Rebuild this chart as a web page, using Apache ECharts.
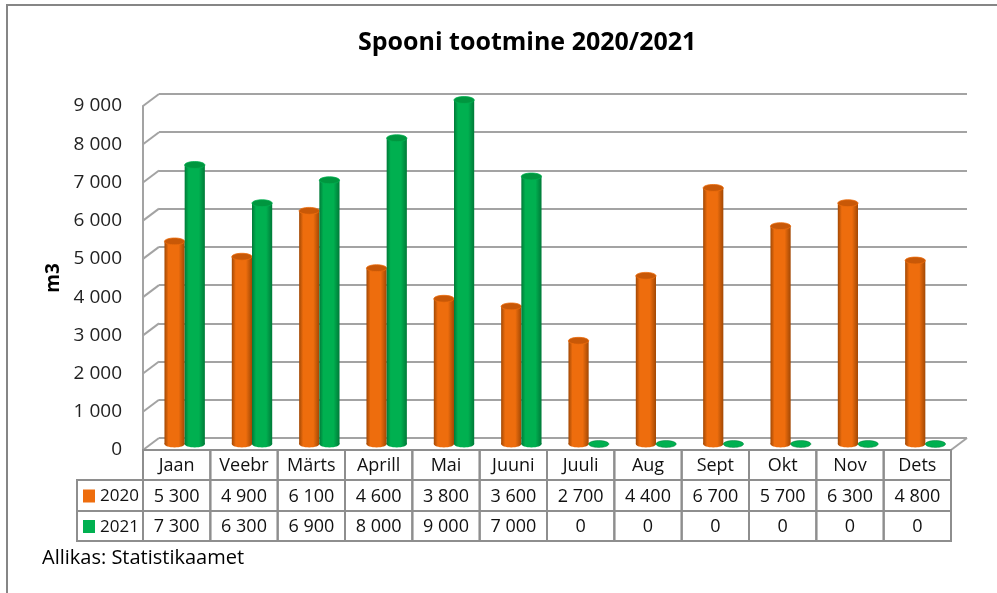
<!DOCTYPE html>
<html>
<head>
<meta charset="utf-8">
<script src="https://cdn.jsdelivr.net/npm/echarts@6/dist/echarts.min.js"></script>
<style>
  html, body { margin: 0; padding: 0; background: #fff; }
  #chart { width: 997px; height: 593px; }
</style>
</head>
<body>
<div id="chart"></div>
<script>
// andmed
const months = ['Jaan', 'Veebr', 'Märts', 'Aprill', 'Mai', 'Juuni', 'Juuli', 'Aug', 'Sept', 'Okt', 'Nov', 'Dets'];
const years = ['2020', '2021'];
const prod2020 = [5300, 4900, 6100, 4600, 3800, 3600, 2700, 4400, 6700, 5700, 6300, 4800];
const prod2021 = [7300, 6300, 6900, 8000, 9000, 7000, 0, 0, 0, 0, 0, 0];
const yTicks = [0, 1000, 2000, 3000, 4000, 5000, 6000, 7000, 8000, 9000];

const seriesValues = [prod2020, prod2021];
const mainColors = ['#EE6D0D', '#00B050'];
const darkColors = ['#A24804', '#007A38'];
const topColors = ['#C85807', '#00963F'];
const lineGray = '#A3A3A3';
const tableGray = '#8E8E8E';
const FONT = 'Open Sans';

// 3D sügavus (tagasein vs esiserv)
const DX = 16, DY = 12;

const fmt = v => String(v).replace(/\B(?=(\d{3})+(?!\d))/g, ' ');

const chart = echarts.init(document.getElementById('chart'));

const axisBase = (gridIndex) => ({
  type: 'category', gridIndex, data: months,
  axisLine: { show: false }, axisTick: { show: false }, axisLabel: { show: false }
});
const yBase = (gridIndex) => ({
  type: 'value', gridIndex, min: 0, max: 9000, interval: 1000,
  axisLine: { show: false }, axisTick: { show: false }, axisLabel: { show: false },
  splitLine: { show: false }
});

// silinder
function cylinderSeries(s) {
  return {
    type: 'custom',
    name: years[s],
    xAxisIndex: 1, yAxisIndex: 1,
    clip: false,
    z: 5,
    data: seriesValues[s].map((v, i) => [i, v]),
    renderItem: (params, api) => {
      const i = api.value(0);
      const v = api.value(1);
      const top = api.coord([i, v]);
      const base = api.coord([i, 0]);
      const band = api.size([1, 0])[0];
      const bw = band * 0.3;
      const cx = top[0] + (s === 0 ? -bw / 2 : bw / 2);
      const rx = bw / 2, ry = bw * 0.17;
      const grad = new echarts.graphic.LinearGradient(0, 0, 1, 0, [
        { offset: 0, color: darkColors[s] },
        { offset: 0.2, color: mainColors[s] },
        { offset: 0.7, color: mainColors[s] },
        { offset: 1, color: darkColors[s] }
      ]);
      if (v === 0) {
        return {
          type: 'ellipse',
          shape: { cx: cx, cy: base[1], rx: rx, ry: ry },
          style: { fill: mainColors[s], stroke: darkColors[s], lineWidth: 0.5 }
        };
      }
      return {
        type: 'group',
        children: [
          { type: 'ellipse', shape: { cx: cx, cy: base[1], rx: rx, ry: ry }, style: { fill: grad } },
          { type: 'rect', shape: { x: cx - rx, y: top[1], width: bw, height: base[1] - top[1] }, style: { fill: grad } },
          { type: 'ellipse', shape: { cx: cx, cy: top[1], rx: rx, ry: ry }, style: { fill: topColors[s], stroke: mainColors[s], lineWidth: 0.8 } }
        ]
      };
    }
  };
}

const option = {
  animation: false,
  backgroundColor: '#fff',
  textStyle: { fontFamily: FONT },
  title: {
    text: 'Spooni tootmine 2020/2021',
    left: 353, top: 25,
    textStyle: { fontFamily: FONT, fontWeight: 'bold', fontSize: 25, color: '#000' }
  },
  grid: [
    { left: 159, top: 94, width: 808, height: 344 },   // tagasein
    { left: 151, top: 100, width: 808, height: 344 },  // tulbad
    { left: 143, top: 106, width: 808, height: 344 }   // esiserv + tabel
  ],
  xAxis: [
    axisBase(0),
    axisBase(1),
    Object.assign(axisBase(2), { axisLine: { show: true, lineStyle: { color: lineGray, width: 2 } } })
  ],
  yAxis: [
    Object.assign(yBase(0), { splitLine: { show: true, lineStyle: { color: lineGray, width: 2 } } }),
    yBase(1),
    Object.assign(yBase(2), {
      axisLine: { show: true, lineStyle: { color: lineGray, width: 2 } },
      axisLabel: {
        show: true, margin: 21, formatter: fmt, padding: [6, 0, 0, 0],
        fontFamily: FONT, fontSize: 19, color: '#222'
      },
      name: 'm3', nameLocation: 'middle', nameRotate: 90, nameGap: 80,
      nameTextStyle: { fontFamily: FONT, fontWeight: 'bold', fontSize: 19, color: '#000' }
    })
  ],
  graphic: [
    { type: 'rect', shape: { x: 7, y: 5, width: 1010, height: 610 }, style: { fill: 'none', stroke: '#868686', lineWidth: 2 } },
    { type: 'text', left: 42, top: 548, style: { text: 'Allikas: Statistikaamet', font: '20px "Open Sans"', fill: '#000' } }
  ],
  series: [
    // külgsein ja põranda parem serv
    {
      type: 'custom', xAxisIndex: 2, yAxisIndex: 2, clip: false, z: 1,
      data: yTicks.map(v => [0, v]),
      renderItem: (params, api) => {
        const p = api.coord([0, api.value(1)]);
        const x = params.coordSys.x;
        const children = [{
          type: 'line', shape: { x1: x, y1: p[1], x2: x + DX, y2: p[1] - DY },
          style: { stroke: lineGray, lineWidth: 2 }
        }];
        if (api.value(1) === 0) {
          const xr = x + params.coordSys.width;
          children.push({
            type: 'line', shape: { x1: xr, y1: p[1], x2: xr + DX, y2: p[1] - DY },
            style: { stroke: lineGray, lineWidth: 2 }
          });
        }
        return { type: 'group', children };
      }
    },
    cylinderSeries(0),
    cylinderSeries(1),
    // andmetabel
    {
      type: 'custom', xAxisIndex: 2, yAxisIndex: 2, clip: false, z: 6,
      data: months.map((m, i) => [i, 0]),
      renderItem: (params, api) => {
        const i = api.value(0);
        const p = api.coord([i, 0]);
        const w = api.size([1, 0])[0];
        const x0 = p[0] - w / 2;
        const rows = [p[1], p[1] + 30, p[1] + 61, p[1] + 91];
        const texts = [months[i], fmt(prod2020[i]), fmt(prod2021[i])];
        const children = [];
        for (let r = 0; r < 3; r++) {
          children.push({
            type: 'rect', shape: { x: x0, y: rows[r], width: w, height: rows[r + 1] - rows[r] },
            style: { fill: 'none', stroke: tableGray, lineWidth: 2 }
          });
          children.push({
            type: 'text', x: p[0], y: (rows[r] + rows[r + 1]) / 2 + 1,
            style: { text: texts[r], font: '18px "Open Sans"', fill: '#111', align: 'center', verticalAlign: 'middle' }
          });
        }
        if (i === 0) {
          const lx = x0 - 66;
          for (let r = 1; r < 3; r++) {
            const cy = (rows[r] + rows[r + 1]) / 2;
            children.push({
              type: 'rect', shape: { x: lx, y: rows[r], width: 66, height: rows[r + 1] - rows[r] },
              style: { fill: 'none', stroke: tableGray, lineWidth: 2 }
            });
            children.push({
              type: 'rect', shape: { x: lx + 6, y: cy - 6, width: 12, height: 13 },
              style: { fill: mainColors[r - 1] }
            });
            children.push({
              type: 'text', x: lx + 23, y: cy + 1,
              style: { text: years[r - 1], font: '17px "Open Sans"', fill: '#111', align: 'left', verticalAlign: 'middle' }
            });
          }
        }
        return { type: 'group', children };
      }
    }
  ]
};

chart.setOption(option);
</script>
</body>
</html>
